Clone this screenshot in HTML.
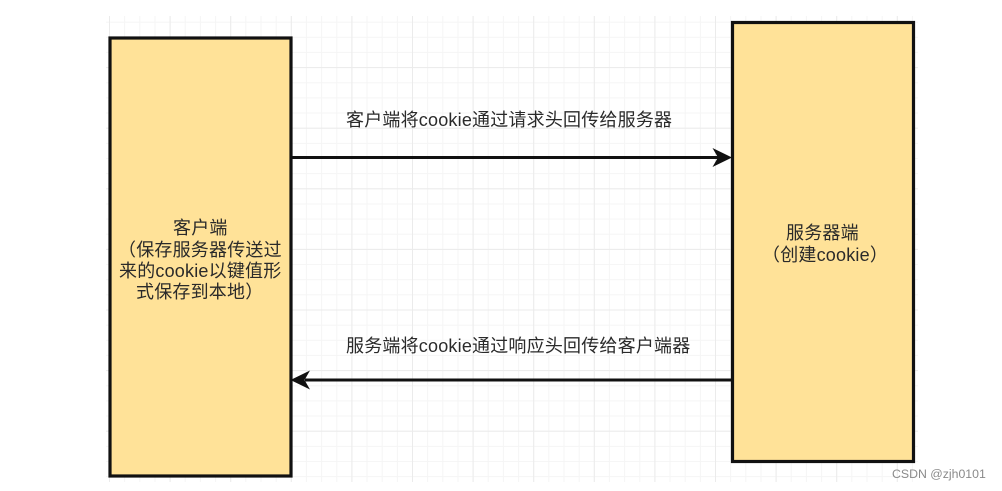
<!DOCTYPE html>
<html>
<head>
<meta charset="utf-8">
<style>
html,body{margin:0;padding:0;background:#fff}
#p{position:relative;width:1002px;height:491px;overflow:hidden;background:#fff}
svg{position:absolute;left:0;top:0;filter:blur(.35px)}
.t{position:absolute;white-space:nowrap;font-family:"Liberation Sans","Noto Sans CJK SC",sans-serif;font-size:18px;line-height:22px;letter-spacing:.2px;color:#2a2a2a;filter:blur(.3px)}
</style>
</head>
<body>
<div id="p">
<svg width="1002" height="491" viewBox="0 0 1002 491">
<defs>
<pattern id="m" x="109" y="6.5" width="15.15" height="15.15" patternUnits="userSpaceOnUse">
<path d="M.5 0V15.15M0 .5H15.15" stroke="#f5f5f5" stroke-width="1" fill="none"/>
</pattern>
<pattern id="M" x="109" y="6.5" width="60.6" height="60.6" patternUnits="userSpaceOnUse">
<path d="M.5 0V60.6M0 .5H60.6" stroke="#ebebeb" stroke-width="1" fill="none"/>
</pattern>
</defs>
<rect x="106" y="16" width="812" height="466" fill="url(#m)"/>
<rect x="106" y="16" width="812" height="466" fill="url(#M)"/>
<rect x="110" y="38" width="181" height="438" fill="#ffe298" stroke="#111" stroke-width="3.2"/>
<rect x="732.5" y="22.5" width="181" height="439" fill="#ffe298" stroke="#111" stroke-width="3.2"/>
<line x1="292" y1="157.5" x2="718" y2="157.5" stroke="#111" stroke-width="3"/>
<path d="M732 157.5L712.5 148L718 157.5L712.5 167Z" fill="#111"/>
<line x1="305" y1="380" x2="732" y2="380" stroke="#111" stroke-width="3"/>
<path d="M290.5 380L310 370.5L304.5 380L310 389.5Z" fill="#111"/>
</svg>
<div class="t" style="left:346px;top:109px">客户端将cookie通过请求头回传给服务器</div>
<div class="t" style="left:346px;top:335px">服务端将cookie通过响应头回传给客户端器</div>
<div class="t" style="left:173px;top:217px">客户端</div>
<div class="t" style="left:118px;top:239px">（保存服务器传送过</div>
<div class="t" style="left:119px;top:260px">来的cookie以键值形</div>
<div class="t" style="left:136px;top:281px">式保存到本地）</div>
<div class="t" style="left:786px;top:222px">服务器端</div>
<div class="t" style="left:762px;top:244px">（创建cookie）</div>
<div class="t" style="left:892px;top:466px;font-size:12.3px;line-height:16px;letter-spacing:0;color:#8a8a8a">CSDN @zjh0101</div>
</div>
</body>
</html>
